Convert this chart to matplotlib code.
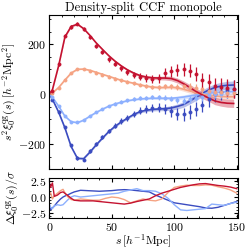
import numpy as np
import matplotlib
matplotlib.use("Agg")
import matplotlib.pyplot as plt
from matplotlib.ticker import MultipleLocator

plt.rcParams["font.family"] = "serif"
plt.rcParams["font.serif"] = ["cmr10", "DejaVu Serif"]
plt.rcParams["mathtext.fontset"] = "cm"
plt.rcParams["axes.formatter.use_mathtext"] = True
plt.rcParams["axes.unicode_minus"] = True
plt.rcParams["font.size"] = 8

# separation grid (model) and bin centres (data)
s_model = [0, 2.5, 7.5, 12.5, 17.5, 22.5, 27.5, 32.5, 37.5, 42.5, 47.5, 52.5, 57.5,
           62.5, 67.5, 72.5, 77.5, 82.5, 87.5, 92.5, 97.5, 102.5, 107.5, 112.5,
           117.5, 122.5, 127.5, 132.5, 137.5, 142.5, 147.5]
s_data = s_model[1:]

# models s^2 xi_0
model_ds1 = [0, -20, -72, -135, -210, -257, -258, -232, -203, -176, -150, -129, -111,
             -96, -81, -70, -64, -61, -59, -58, -55, -49, -41, -27, -12, 4, 17, 27, 33, 36, 37]
model_ds2 = [0, -12, -48, -88, -110, -114, -104, -88, -73, -60, -48, -39, -32, -26, -22,
             -19, -17, -16, -16, -16, -16, -14, -11, -7, -3, 1, 4, 7, 9, 10, 11]
model_ds4 = [0, 5, 27, 57, 85, 100, 101, 96, 88, 80, 72, 64, 56, 50, 44, 38, 33, 29, 27,
             27, 28, 26, 20, 13, 6, 0, -4, -7, -9, -10, -10]
model_ds5 = [0, 18, 115, 230, 272, 281, 263, 236, 206, 180, 155, 133, 114, 98, 85, 75,
             69, 66, 65, 65, 63, 55, 42, 27, 11, -3, -15, -27, -33, -36, -37]

band_dark = [0, 1, 2, 3, 3, 3, 3, 3, 3, 3, 3, 4, 4, 4, 5, 5, 6, 6, 7, 8, 9, 10, 11, 12,
             13, 14, 14, 15, 15, 16, 16]
band_light = [0, 1, 1, 2, 2, 2, 2, 2, 2, 2, 2, 3, 3, 3, 3, 4, 4, 4, 5, 5, 6, 7, 8, 9,
              10, 10, 11, 11, 12, 12, 12]

# measurements
data_ds1 = [-22, -70, -132, -205, -255, -262, -228, -200, -173, -147, -126, -108, -94,
            -79, -66, -59, -56, -55, -60, -68, -78, -80, -72, -58, -43, -20, 0, 10, 18, 22]
data_ds2 = [-12, -48, -88, -111, -113, -103, -87, -72, -59, -47, -38, -30, -24, -19, -15,
            -14, -12, -13, -15, -18, -24, -28, -20, -14, -12, -3, 0, 2, 5, 8]
data_ds4 = [5, 26, 57, 86, 101, 100, 95, 87, 79, 71, 63, 56, 50, 44, 39, 34, 30, 28, 33,
            32, 31, 34, 30, 26, 20, 14, 10, 8, 6, 4]
data_ds5 = [15, 120, 235, 270, 283, 262, 228, 193, 168, 140, 122, 104, 90, 78, 70, 66,
            62, 64, 84, 93, 97, 101, 95, 80, 57, 50, 32, 30, 26, 20]

err_dark = [3, 5, 6, 7, 7, 7, 7, 8, 8, 9, 10, 11, 12, 13, 14, 15, 17, 18, 20, 22, 24, 26,
            27, 28, 30, 32, 33, 34, 35, 36]
err_light = [2, 3, 3, 4, 4, 4, 4, 5, 5, 5, 6, 6, 6, 7, 7, 8, 8, 9, 10, 11, 12, 13, 14, 14,
             15, 16, 17, 18, 19, 20]

# residuals (data - model) / sigma
s_res = [0, 1, 2.5, 4, 6.5, 9, 11, 13, 15, 17.5, 20, 25, 30, 35, 40, 45, 50, 55, 60, 65,
         70, 75, 80, 85, 90, 95, 100, 105, 110, 115, 120, 125, 130, 135, 140, 145, 150]
res_ds1 = [-1.2, -2.0, -1.7, -1.4, -0.8, -0.3, 0.0, 0.2, 0.35, 0.6, 0.8, 1.05, 1.0, 0.95,
           0.9, 0.95, 1.0, 1.1, 1.15, 1.1, 1.0, 0.9, 0.8, 0.3, -0.1, -0.5, -0.9, -1.05,
           -1.2, -1.35, -1.5, -1.7, -1.75, -1.6, -1.3, -1.0, -0.7]
res_ds2 = [-1.0, -1.6, -1.8, -1.4, -1.2, -1.3, -1.2, -0.8, -0.4, 0.0, 0.2, 0.0, 0.1, 0.2,
           0.3, 0.4, 0.5, 0.6, 0.9, 1.1, 1.3, 1.0, 1.0, 0.9, 0.5, -0.2, -1.2, -2.0, -2.1,
           -2.0, -1.9, -1.8, -1.1, -1.2, -1.3, -1.0, -0.8]
res_ds4 = [0.4, 0.7, -0.3, 0.2, 0.6, 1.0, 1.2, 0.5, 0.0, -0.4, -0.5, -0.3, -0.4, -0.5,
           -0.5, -0.2, 0.0, -0.1, -0.4, -0.9, -0.6, -0.3, -0.5, -0.6, -0.3, 0.7, 1.5, 1.7,
           1.85, 1.8, 1.8, 1.9, 1.85, 1.6, 1.4, 1.1, 0.6]
res_ds5 = [2.3, 1.5, 2.2, 0.1, 0.3, 0.7, 0.8, 0.5, 0.2, -0.2, -0.5, -0.6, -0.6, -0.6,
           -0.7, -0.8, -0.9, -1.0, -1.1, -0.95, -0.7, -0.5, -0.3, 0.2, 0.6, 0.9, 1.2, 1.5,
           1.7, 1.9, 2.05, 2.1, 1.95, 1.8, 1.7, 1.55, 1.3]

colors = ["#3b4cc0", "#8db0fe", "#f5a383", "#c41230"]

series = [
    (model_ds1, band_dark, data_ds1, err_dark, res_ds1),
    (model_ds2, band_light, data_ds2, err_light, res_ds2),
    (model_ds4, band_light, data_ds4, err_light, res_ds4),
    (model_ds5, band_dark, data_ds5, err_dark, res_ds5),
]

fig = plt.figure(figsize=(2.49, 2.49), dpi=100)
ax = fig.add_axes([0.198, 0.321, 0.758, 0.619])
axr = fig.add_axes([0.198, 0.125, 0.758, 0.161], sharex=ax)

for (model, band, data, err, res), c in zip(series, colors):
    m = np.array(model)
    b = np.array(band)
    ax.fill_between(s_model, m - b, m + b, color=c, alpha=0.35, lw=0)
    ax.plot(s_model, m, color=c, lw=1.2)
    ax.errorbar(s_data, data, yerr=err, fmt="o", color=c, ms=2.2, mfc=c, mew=0.6,
                elinewidth=0.9, capsize=0)
    axr.plot(s_res, res, color=c, lw=1.0)

for a in (ax, axr):
    a.tick_params(which="both", direction="in", top=True, right=True, labelsize=8.5, pad=2)
    a.tick_params(which="major", length=3)
    a.tick_params(which="minor", length=1.5)
    a.xaxis.set_major_locator(MultipleLocator(50))
    a.xaxis.set_minor_locator(MultipleLocator(10))

ax.set_xlim(0, 151)
ax.set_ylim(-300, 318)
ax.yaxis.set_major_locator(MultipleLocator(200))
ax.yaxis.set_minor_locator(MultipleLocator(50))
ax.tick_params(labelbottom=False)
ax.set_ylabel(r"$s^2\xi_0^{\rm qg}(s)\,[h^{-2}{\rm Mpc}^2]$", fontsize=8.5, labelpad=0)
ax.set_title("Density-split CCF monopole", fontsize=9, pad=3)

axr.set_ylim(-3.25, 3.0)
axr.yaxis.set_major_locator(MultipleLocator(2.5))
axr.yaxis.set_minor_locator(MultipleLocator(0.5))
axr.set_xlabel(r"$s\,[h^{-1}{\rm Mpc}]$", fontsize=8.5, labelpad=0)
axr.set_ylabel(r"$\Delta\xi_0^{\rm qg}(s)/\sigma$", fontsize=8.5, labelpad=0)

fig.savefig("out.png", dpi=100)
